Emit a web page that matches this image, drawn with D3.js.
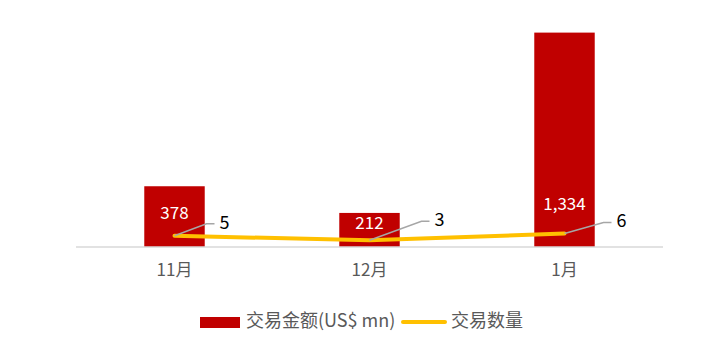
<!DOCTYPE html>
<html>
<head>
<meta charset="utf-8">
<script src="https://cdn.jsdelivr.net/npm/d3@7"></script>
<style>
  body { margin: 0; background: #fff; }
  text { font-family: "Noto Sans CJK SC", "Noto Sans", sans-serif; }
</style>
</head>
<body>
<svg id="chart" width="723" height="353"></svg>
<script>
const months = ["11月", "12月", "1月"];
const dealAmount = [378, 212, 1334];
const dealCount = [5, 3, 6];
const legendLabels = ["交易金额(US$ mn)", "交易数量"];

const svg = d3.select("#chart");
const margin = { top: 22, left: 77, right: 61, baseline: 247 };
const width = 723 - margin.left - margin.right;

const xScale = d3.scaleBand().domain(months).range([margin.left, margin.left + width]).paddingInner(0.69).paddingOuter(0.345);
const yBar = d3.scaleLinear().domain([0, 1400]).range([margin.baseline, margin.top]);
const yLine = d3.scaleLinear().domain([0, 100]).range([margin.baseline, margin.top]);
const cx = d => xScale(d) + xScale.bandwidth() / 2;

// bars
svg.selectAll(".bar")
    .data(months)
    .join("rect")
    .attr("class", "bar")
    .attr("x", d => xScale(d))
    .attr("width", xScale.bandwidth())
    .attr("y", (d, i) => yBar(dealAmount[i]))
    .attr("height", (d, i) => yBar(0) - yBar(dealAmount[i]))
    .attr("fill", "#C00000");

// baseline
svg.append("line")
    .attr("x1", margin.left - 1).attr("x2", margin.left + width + 1)
    .attr("y1", margin.baseline).attr("y2", margin.baseline)
    .attr("stroke", "#D9D9D9").attr("stroke-width", 1.5);

// bar labels (placed by hand to avoid the line, as in the original)
const barLabelLift = [33, 23, 42];
svg.selectAll(".bar-label")
    .data(months)
    .join("text")
    .attr("class", "bar-label")
    .attr("x", d => cx(d))
    .attr("y", (d, i) => margin.baseline - barLabelLift[i])
    .attr("dominant-baseline", "middle")
    .attr("text-anchor", "middle")
    .attr("fill", "#fff")
    .attr("font-size", 17)
    .text((d, i) => d3.format(",")(dealAmount[i]));

// line
svg.append("path")
    .datum(months)
    .attr("d", d3.line().x(d => cx(d)).y((d, i) => yLine(dealCount[i])))
    .attr("fill", "none")
    .attr("stroke", "#FFC000")
    .attr("stroke-width", 4)
    .attr("stroke-linecap", "round");

// leader lines and line labels
const leader = [{ dx: 32, dy: -12 }, { dx: 52, dy: -19 }, { dx: 39, dy: -11 }];
svg.selectAll(".leader")
    .data(months)
    .join("polyline")
    .attr("class", "leader")
    .attr("points", (d, i) => {
        const x0 = cx(d), y0 = yLine(dealCount[i]);
        const x1 = x0 + leader[i].dx, y1 = y0 + leader[i].dy;
        return `${x0},${y0} ${x1},${y1} ${x1 + 8},${y1}`;
    })
    .attr("fill", "none")
    .attr("stroke", "#A6A6A6")
    .attr("stroke-width", 1.5);

svg.selectAll(".line-label")
    .data(months)
    .join("text")
    .attr("class", "line-label")
    .attr("x", (d, i) => cx(d) + leader[i].dx + 13)
    .attr("y", (d, i) => yLine(dealCount[i]) + leader[i].dy)
    .attr("dominant-baseline", "middle")
    .attr("fill", "#000")
    .attr("font-size", 18)
    .text((d, i) => dealCount[i]);

// x axis labels
svg.selectAll(".x-label")
    .data(months)
    .join("text")
    .attr("class", "x-label")
    .attr("x", d => cx(d))
    .attr("y", 271)
    .attr("dominant-baseline", "middle")
    .attr("text-anchor", "middle")
    .attr("fill", "#595959")
    .attr("font-size", 17)
    .text(d => d);

// legend
const legend = svg.append("g").attr("transform", "translate(200, 322)");
legend.append("rect").attr("x", 0).attr("y", -5).attr("width", 40).attr("height", 11).attr("fill", "#C00000");
legend.append("text").attr("x", 46).attr("y", 0).attr("dominant-baseline", "middle")
    .attr("fill", "#595959").attr("font-size", 18).text(legendLabels[0]);
legend.append("line").attr("x1", 203).attr("x2", 245).attr("y1", 0).attr("y2", 0)
    .attr("stroke", "#FFC000").attr("stroke-width", 4).attr("stroke-linecap", "round");
legend.append("text").attr("x", 251).attr("y", 0).attr("dominant-baseline", "middle")
    .attr("fill", "#595959").attr("font-size", 18).text(legendLabels[1]);
</script>
</body>
</html>
